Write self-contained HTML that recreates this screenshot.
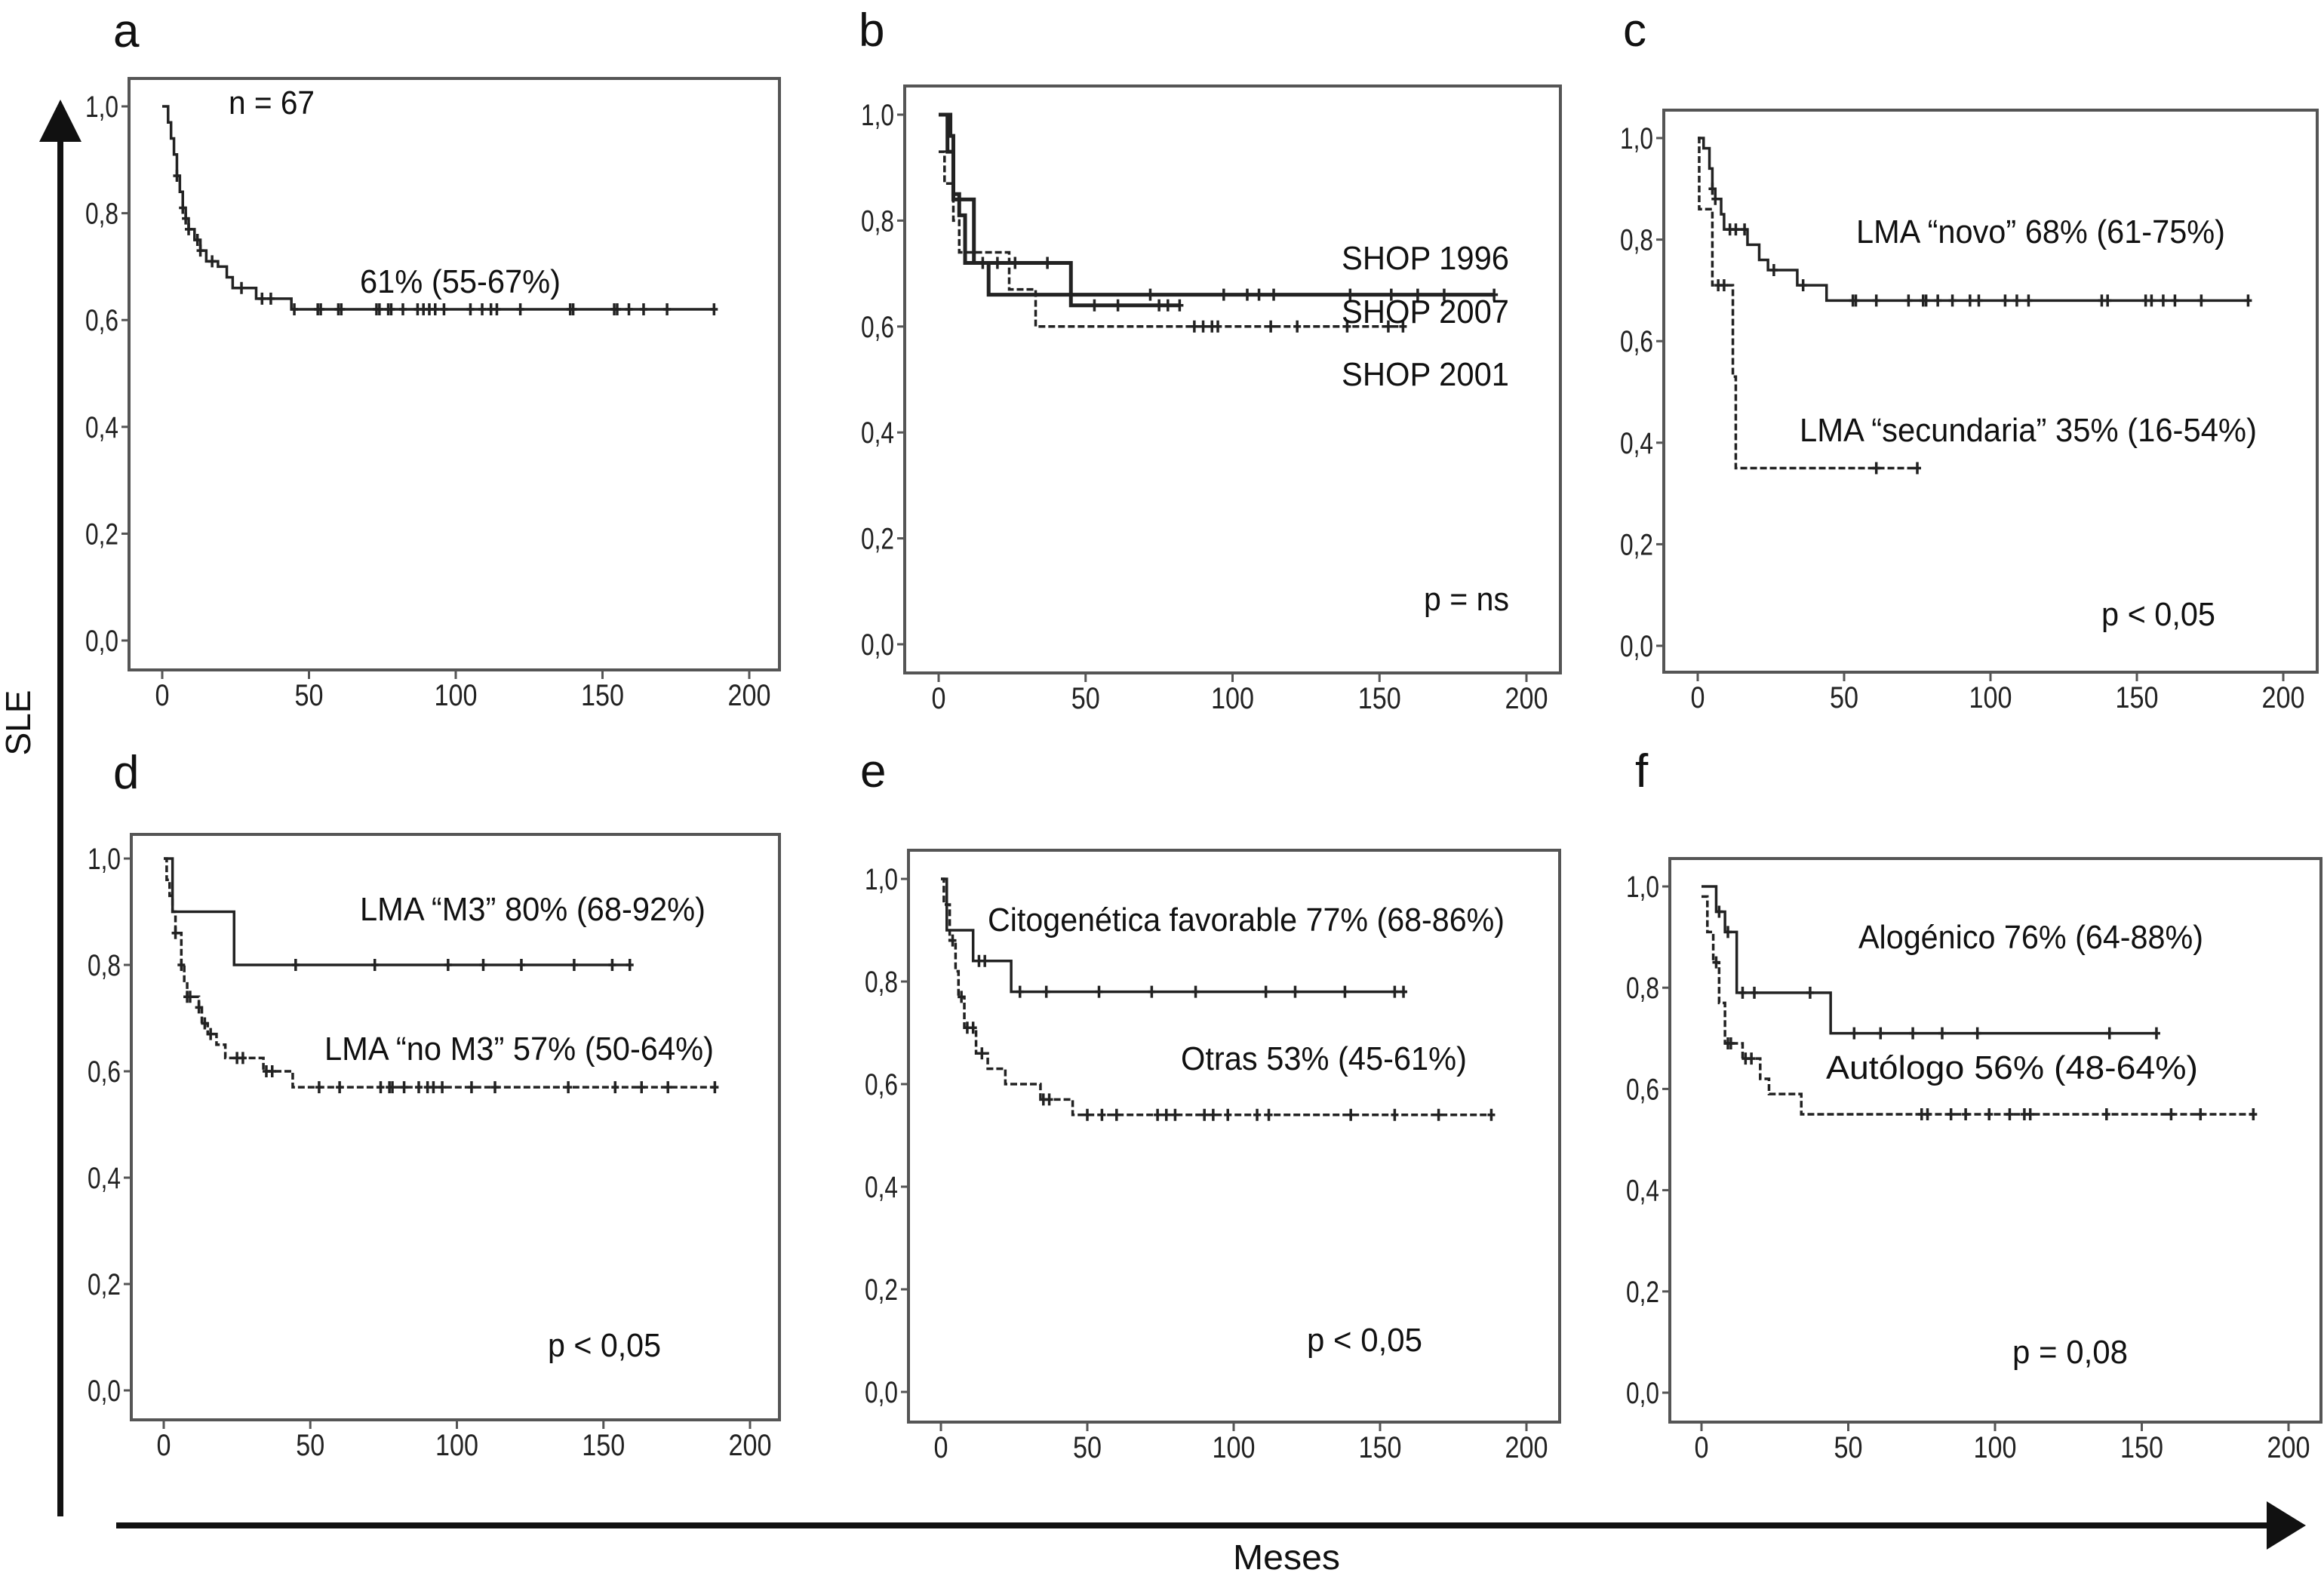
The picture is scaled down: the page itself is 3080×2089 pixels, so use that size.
<!DOCTYPE html>
<html><head><meta charset="utf-8">
<style>
html,body{margin:0;padding:0;background:#fff;}
svg{display:block;font-family:"Liberation Sans",Arial,sans-serif;}
</style></head>
<body>
<svg id="fig" width="3080" height="2089" viewBox="0 0 3080 2089" xmlns="http://www.w3.org/2000/svg">
  <rect x="0" y="0" width="3080" height="2089" fill="#fff"/>
  <g>
    <line x1="80" y1="2010" x2="80" y2="180" stroke="#111" stroke-width="8"/>
    <polygon points="80,132 52,188 108,188" fill="#111"/>
  </g>
  <text x="0" y="0" font-size="46" fill="#111" transform="translate(40,958) rotate(-90)" text-anchor="middle">SLE</text>
  <g>
    <line x1="154" y1="2022" x2="3010" y2="2022" stroke="#111" stroke-width="8"/>
    <polygon points="3056,2022 3004,1990 3004,2054" fill="#111"/>
  </g>
  <text x="1705" y="2080" font-size="46" fill="#111" text-anchor="middle" textLength="142" lengthAdjust="spacingAndGlyphs">Meses</text>
  <g id="panels"></g>
</svg>
<script>
// ---- Data ----
const yTicks = [0, 0.2, 0.4, 0.6, 0.8, 1.0];
const yTickLabels = ["0,0", "0,2", "0,4", "0,6", "0,8", "1,0"];
const xTicks = [0, 50, 100, 150, 200];
const xTickLabels = ["0", "50", "100", "150", "200"];

// Panel a
const aTimes = [0, 2, 3, 4, 5, 6, 7, 8, 9, 11, 13, 15, 19, 22, 24, 32, 44];
const aSurv = [1.0, 0.97, 0.94, 0.91, 0.87, 0.84, 0.81, 0.79, 0.77, 0.75, 0.73, 0.71, 0.70, 0.68, 0.66, 0.64, 0.62];
const aEnd = 188;
const aCens = [5, 7, 8, 9, 12, 13, 17, 27, 34, 37, 45, 53, 54, 60, 61, 73, 74, 77, 78, 82, 87, 89, 91, 93, 96, 105, 109, 112, 114, 122, 139, 140, 154, 155, 159, 164, 172, 188];

// Panel b
const b1996Times = [0, 4, 5, 7, 9, 17];
const b1996Surv = [1.0, 0.96, 0.85, 0.81, 0.72, 0.66];
const b1996End = 189;
const b1996Cens = [72, 97, 105, 109, 114, 140, 154, 163, 172, 189];
const b2007Times = [0, 3, 5, 12, 45];
const b2007Surv = [1.0, 0.93, 0.84, 0.72, 0.64];
const b2007End = 82;
const b2007Cens = [15, 20, 26, 37, 53, 61, 75, 78, 82];
const b2001Times = [0, 2, 5, 7, 24, 33];
const b2001Surv = [0.93, 0.87, 0.80, 0.74, 0.67, 0.60];
const b2001End = 158;
const b2001Cens = [87, 90, 93, 95, 113, 122, 139, 153, 158];

// Panel c
const cNovoTimes = [0, 2, 4, 5, 6, 8, 9, 17, 21, 24, 34, 44];
const cNovoSurv = [1.0, 0.98, 0.94, 0.90, 0.88, 0.85, 0.82, 0.79, 0.76, 0.74, 0.71, 0.68];
const cNovoEnd = 188;
const cNovoCens = [5, 6, 11, 13, 16, 26, 36, 53, 54, 61, 72, 77, 78, 82, 87, 93, 96, 105, 109, 113, 138, 140, 153, 155, 159, 163, 172, 188];
const cSecTimes = [0, 0.5, 5, 12, 13];
const cSecSurv = [1.0, 0.86, 0.71, 0.53, 0.35];
const cSecEnd = 75;
const cSecCens = [7, 9, 61, 75];

// Panel d
const dM3Times = [0, 3, 24];
const dM3Surv = [1.0, 0.90, 0.80];
const dM3End = 159;
const dM3Cens = [45, 72, 97, 109, 122, 140, 153, 159];
const dNoTimes = [0, 1, 2, 3, 4, 6, 7, 8, 12, 13, 15, 18, 21, 34, 44];
const dNoSurv = [1.0, 0.96, 0.93, 0.90, 0.86, 0.80, 0.77, 0.74, 0.72, 0.69, 0.67, 0.65, 0.625, 0.60, 0.57];
const dNoEnd = 188;
const dNoCens = [4, 6, 8, 9, 12, 14, 16, 25, 27, 35, 37, 53, 60, 74, 77, 78, 82, 87, 90, 92, 95, 105, 113, 138, 154, 163, 172, 188];

// Panel e
const eFavTimes = [0, 2, 11, 24];
const eFavSurv = [1.0, 0.90, 0.84, 0.78];
const eFavEnd = 159;
const eFavCens = [13, 15, 27, 36, 54, 72, 87, 111, 121, 138, 155, 158];
const eOtTimes = [0, 1, 3, 5, 6, 8, 12, 16, 22, 34, 45];
const eOtSurv = [1.0, 0.95, 0.88, 0.82, 0.77, 0.71, 0.66, 0.63, 0.60, 0.57, 0.54];
const eOtEnd = 188;
const eOtCens = [4, 7, 9, 11, 14, 35, 37, 50, 55, 60, 74, 77, 80, 90, 93, 98, 108, 112, 140, 155, 170, 188];

// Panel f
const fAloTimes = [0, 5, 8, 12, 44];
const fAloSurv = [1.0, 0.95, 0.91, 0.79, 0.71];
const fAloEnd = 155;
const fAloCens = [6, 9, 14, 18, 37, 52, 61, 72, 82, 94, 139, 155];
const fAutTimes = [0, 2, 4, 6, 8, 14, 20, 23, 34];
const fAutSurv = [0.98, 0.91, 0.85, 0.77, 0.69, 0.66, 0.62, 0.59, 0.55];
const fAutEnd = 188;
const fAutCens = [5, 9, 10, 15, 17, 75, 77, 85, 90, 98, 105, 110, 112, 138, 160, 170, 188];

// ---- Layout (geometry) ----
const panels = [
  {id:"a", box:[171,104,1033,888], x0:215, x200:993, y1:141, y0:849, lx:150, ly:62,
   series:[{t:aTimes,s:aSurv,end:aEnd,c:aCens,dash:false,name:"all-patients"}],
   notes:[["n = 67",303,151,114],["61% (55-67%)",477,388,266]]},
  {id:"b", box:[1199,114,2068,892], x0:1244, x200:2023, y1:152, y0:854, lx:1138, ly:61,
   series:[{t:b1996Times,s:b1996Surv,end:b1996End,c:b1996Cens,dash:false,name:"shop-1996",w:5},
           {t:b2007Times,s:b2007Surv,end:b2007End,c:b2007Cens,dash:false,name:"shop-2007",w:5},
           {t:b2001Times,s:b2001Surv,end:b2001End,c:b2001Cens,dash:true,name:"shop-2001"}],
   notes:[["SHOP 1996",1778,357,222],["SHOP 2007",1778,428,222],["SHOP 2001",1778,511,222],["p = ns",1887,809,113]]},
  {id:"c", box:[2205,146,3071,891], x0:2250, x200:3026, y1:183, y0:856, lx:2151, ly:61,
   series:[{t:cNovoTimes,s:cNovoSurv,end:cNovoEnd,c:cNovoCens,dash:false,name:"lma-novo"},
           {t:cSecTimes,s:cSecSurv,end:cSecEnd,c:cSecCens,dash:true,name:"lma-secundaria"}],
   notes:[["LMA \u201cnovo\u201d 68% (61-75%)",2460,322,489],["LMA \u201csecundaria\u201d 35% (16-54%)",2385,585,606],["p < 0,05",2785,829,151]]},
  {id:"d", box:[174,1106,1033,1882], x0:217, x200:994, y1:1138, y0:1843, lx:150, ly:1045,
   series:[{t:dM3Times,s:dM3Surv,end:dM3End,c:dM3Cens,dash:false,name:"lma-m3"},
           {t:dNoTimes,s:dNoSurv,end:dNoEnd,c:dNoCens,dash:true,name:"lma-no-m3"}],
   notes:[["LMA \u201cM3\u201d 80% (68-92%)",477,1220,458],["LMA \u201cno M3\u201d 57% (50-64%)",430,1405,516],["p < 0,05",726,1798,150]]},
  {id:"e", box:[1204,1127,2067,1885], x0:1247, x200:2023, y1:1165, y0:1845, lx:1140, ly:1043,
   series:[{t:eFavTimes,s:eFavSurv,end:eFavEnd,c:eFavCens,dash:false,name:"citogenetica-favorable"},
           {t:eOtTimes,s:eOtSurv,end:eOtEnd,c:eOtCens,dash:true,name:"otras"}],
   notes:[["Citogen\u00e9tica favorable 77% (68-86%)",1309,1234,685],["Otras 53% (45-61%)",1565,1418,379],["p < 0,05",1732,1791,153]]},
  {id:"f", box:[2213,1138,3076,1885], x0:2255, x200:3033, y1:1175, y0:1846, lx:2167, ly:1043,
   series:[{t:fAloTimes,s:fAloSurv,end:fAloEnd,c:fAloCens,dash:false,name:"alogenico"},
           {t:fAutTimes,s:fAutSurv,end:fAutEnd,c:fAutCens,dash:true,name:"autologo"}],
   notes:[["Alog\u00e9nico 76% (64-88%)",2463,1257,457],["Aut\u00f3logo 56% (48-64%)",2420,1430,493],["p = 0,08",2667,1807,153]]}
];

const NS = "http://www.w3.org/2000/svg";
function mk(tag, attrs, parent){
  const el = document.createElementNS(NS, tag);
  for (const k in attrs) el.setAttribute(k, attrs[k]);
  parent.appendChild(el);
  return el;
}
function survAt(t, s, x){ let v = s[0]; for (let i=0;i<t.length;i++){ if (t[i] <= x) v = s[i]; } return v; }

const root = document.getElementById("panels");
panels.forEach(p => {
  const xs = v => p.x0 + (p.x200 - p.x0) * v / 200;
  const ys = v => p.y0 + (p.y1 - p.y0) * v;
  const g = mk("g", {}, root);
  
  

  const letter = mk("text", {x:p.lx, y:p.ly, "font-size":62, fill:"#111"}, g);
  letter.textContent = p.id;
  
  

  const [bx1, by1, bx2, by2] = p.box;
  const frame = mk("rect", {x:bx1, y:by1, width:bx2-bx1, height:by2-by1, fill:"none", stroke:"#555", "stroke-width":4}, g);
  
  

  yTicks.forEach((v, i) => {
    const y = ys(v);
    const tk = mk("line", {x1:bx1-10, y1:y, x2:bx1, y2:y, stroke:"#555", "stroke-width":3}, g);
    
    
    const tl = mk("text", {x:bx1-14, y:y+14, "font-size":40, fill:"#222", "text-anchor":"end", textLength:44, lengthAdjust:"spacingAndGlyphs"}, g);
    tl.textContent = yTickLabels[i];
    
    
  });
  xTicks.forEach((v, i) => {
    const x = xs(v);
    const tk = mk("line", {x1:x, y1:by2, x2:x, y2:by2+12, stroke:"#555", "stroke-width":3}, g);
    
    
    const lab = xTickLabels[i];
    const tl = mk("text", {x:x, y:by2+47, "font-size":40, fill:"#222", "text-anchor":"middle", textLength:lab.length*19, lengthAdjust:"spacingAndGlyphs"}, g);
    tl.textContent = lab;
    
    
  });

  p.series.forEach(sr => {
    let d = "M" + xs(sr.t[0]) + "," + ys(sr.s[0]);
    for (let i=1;i<sr.t.length;i++){
      d += " H" + xs(sr.t[i]) + " V" + ys(sr.s[i]);
    }
    d += " H" + xs(sr.end);
    const attrs = {d:d, fill:"none", stroke:"#222", "stroke-width":sr.w||3.5, "stroke-linejoin":"miter"};
    if (sr.dash) attrs["stroke-dasharray"] = "9,4";
    const path = mk("path", attrs, g);
    
    
    sr.c.forEach(ct => {
      const cx = xs(ct), cy = ys(survAt(sr.t, sr.s, ct));
      const m = mk("path", {d:"M"+(cx)+","+(cy-8)+" V"+(cy+8)+" M"+(cx-5)+","+cy+" H"+(cx+5), stroke:"#222", "stroke-width":3.5, fill:"none"}, g);
      
      
    });
  });

  p.notes.forEach(n => {
    const t = mk("text", {x:n[1], y:n[2], "font-size":44, fill:"#111", textLength:n[3], lengthAdjust:"spacingAndGlyphs"}, g);
    t.textContent = n[0];
    
    
  });
});
</script>
</body></html>
